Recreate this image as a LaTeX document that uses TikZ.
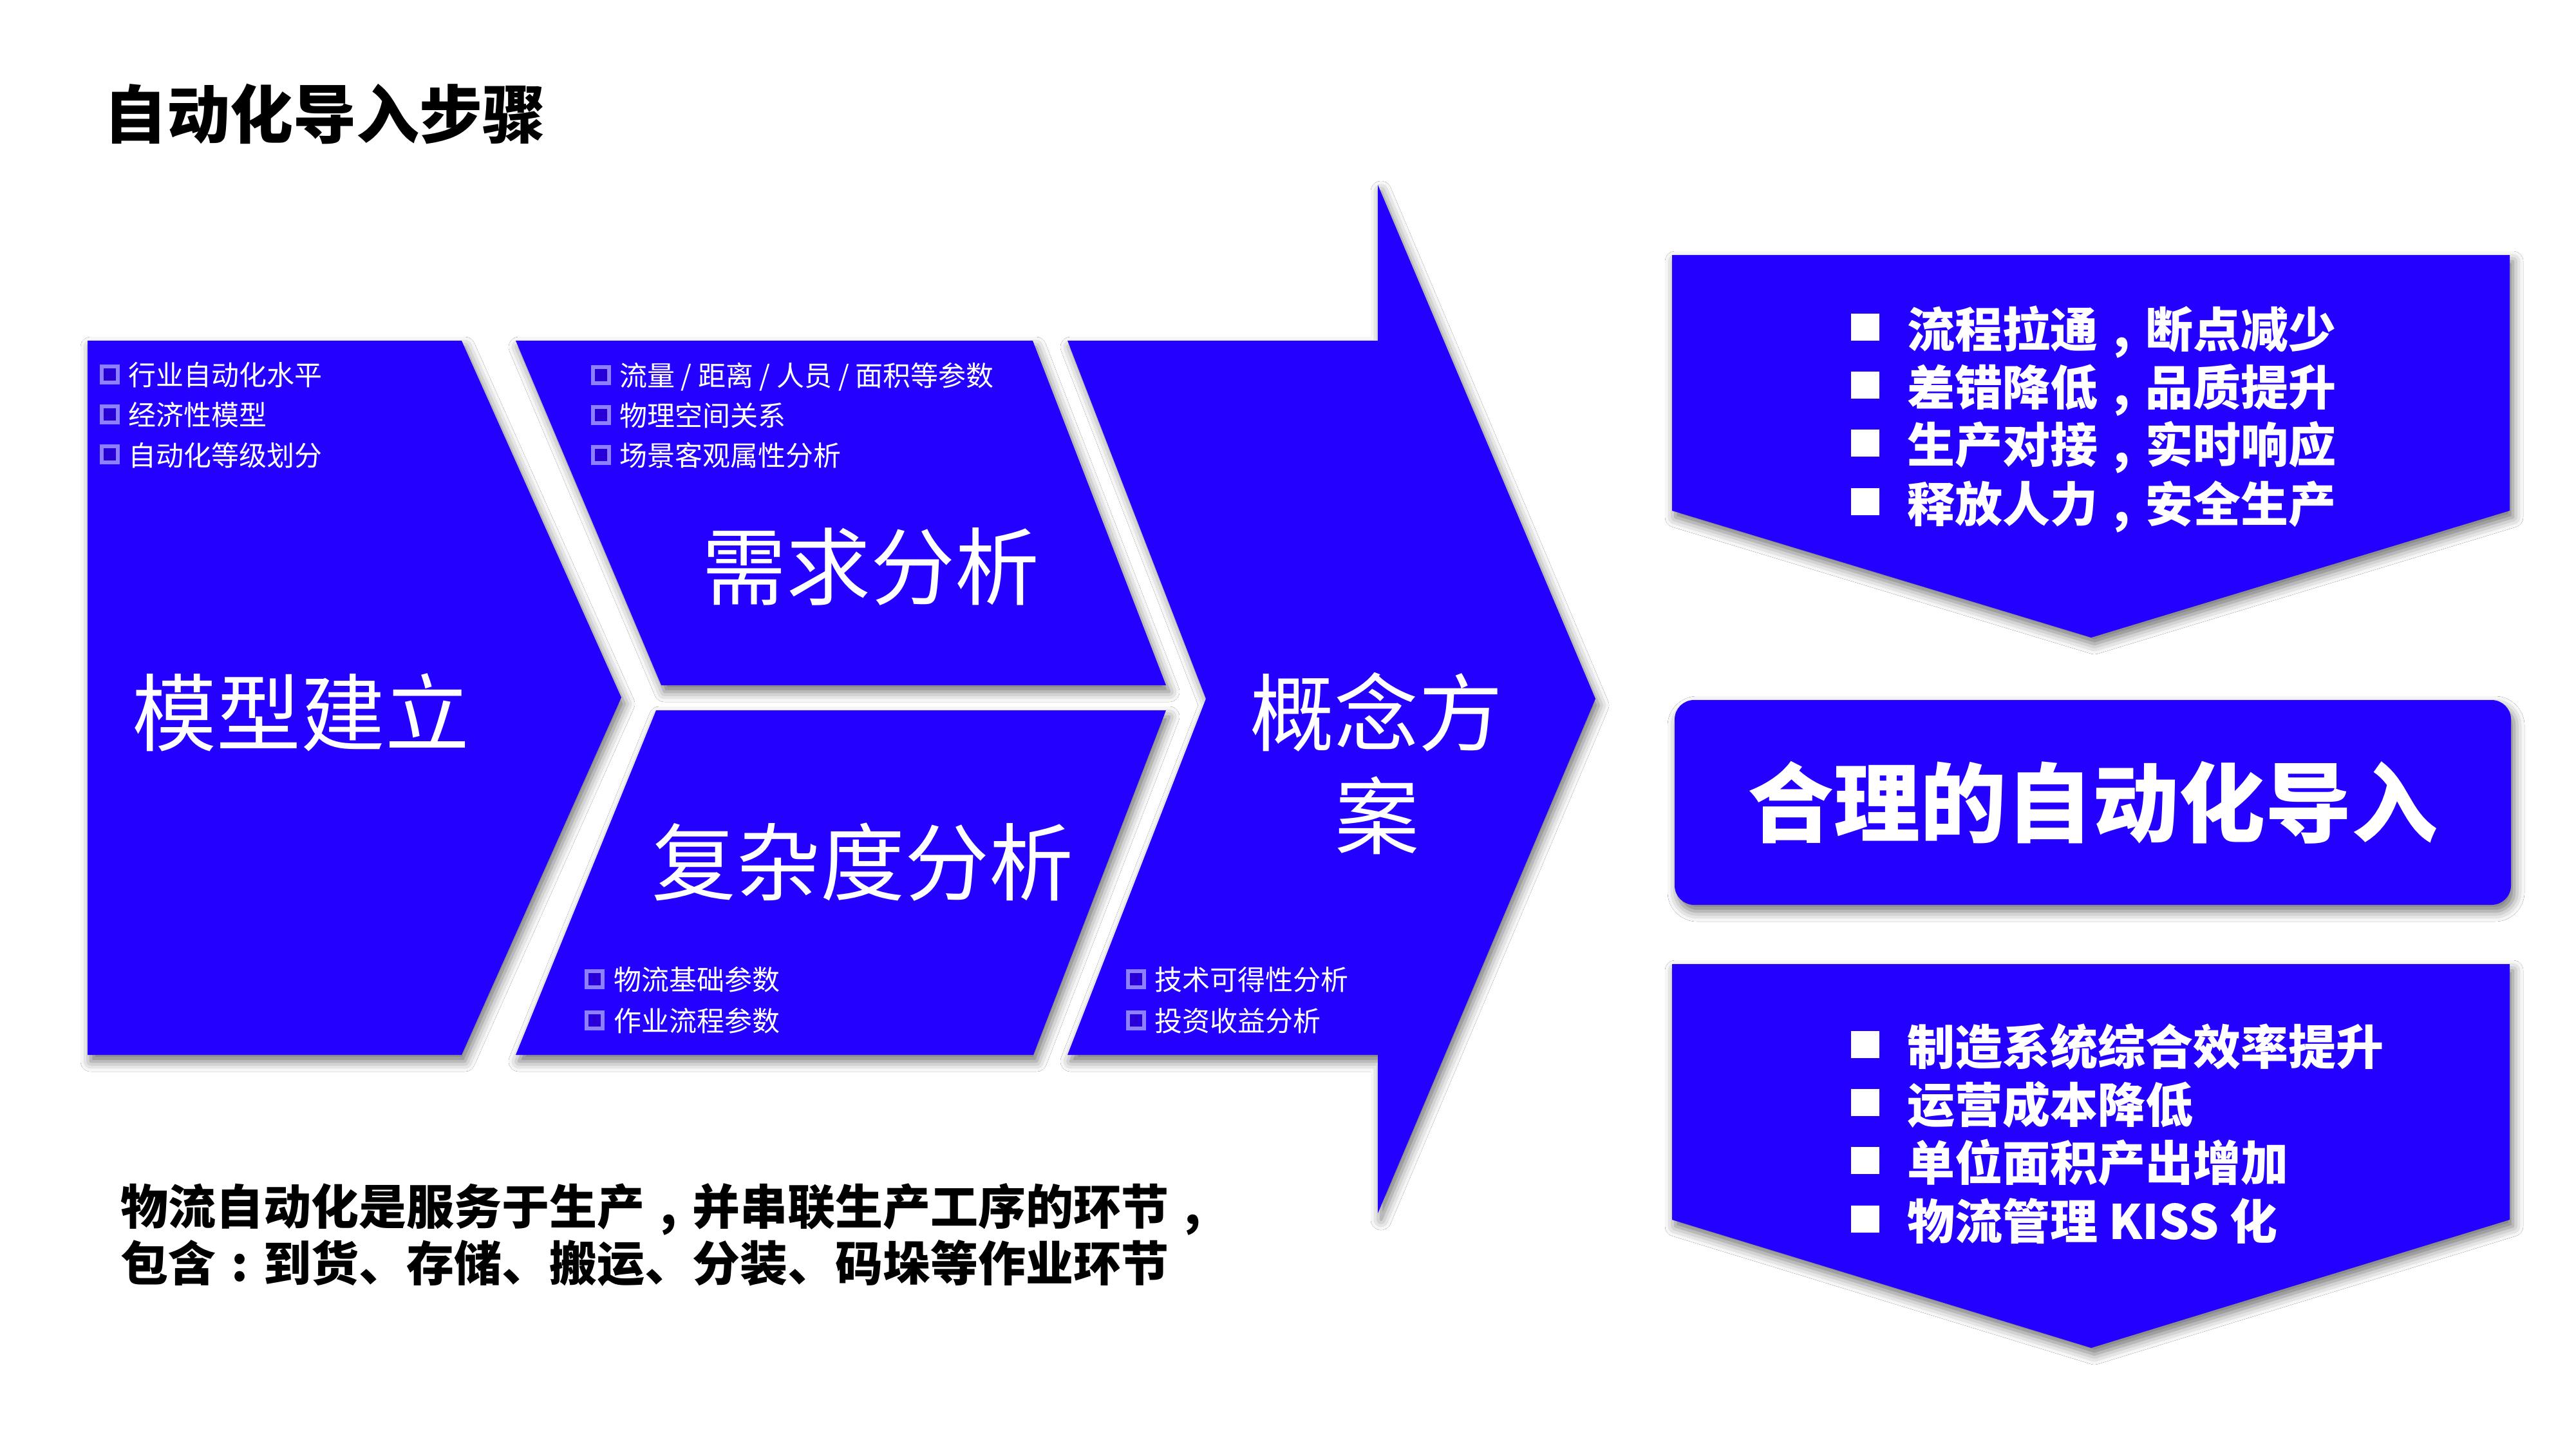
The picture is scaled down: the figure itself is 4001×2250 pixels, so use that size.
\documentclass[tikz,border=0pt]{standalone}
\usepackage{fontspec}
\setmainfont{Noto Sans CJK SC}
\newcommand{\fwc}{\makebox[1em][c]{,}}
\newcommand{\fwcolon}{\makebox[1em][c]{:}}
\usetikzlibrary{shadows.blur}
\definecolor{myblue}{RGB}{36,0,255}
\definecolor{boxline}{RGB}{140,128,255}
\definecolor{boxin}{RGB}{40,0,215}
\tikzset{
  panel/.style={fill=myblue, blur shadow={shadow xshift=5pt, shadow yshift=-10pt, shadow blur radius=16pt, shadow opacity=55}},
  smalltxt/.style={text=white, font=\fontsize{43}{52}\selectfont, anchor=base west, inner sep=0, yshift=-16pt},
  bigtxt/.style={text=white, font=\fontsize{131}{160}\selectfont, anchor=base, inner sep=0, yshift=-50pt},
  rtxt/.style={text=white, font=\bfseries\fontsize{74}{90}\selectfont, anchor=base west, inner sep=0, yshift=-28pt},
  btxt/.style={text=black, font=\bfseries\fontsize{74}{90}\selectfont, anchor=base west, inner sep=0, yshift=-28pt},
  hbox/.style={draw=boxline, fill=boxin, line width=6pt, minimum size=25pt, inner sep=0},
  wbox/.style={fill=white, minimum width=44pt, minimum height=42pt, inner sep=0},
}
\begin{document}
\begin{tikzpicture}[x=1pt,y=-1pt]
\useasboundingbox[fill=white] (0,0) rectangle (4001,2250);

% title
\node[anchor=base west, inner sep=0, font=\bfseries\fontsize{98}{110}\selectfont, yshift=-37pt] (title) at (161,178) {自动化导入步骤};

% panels
\path[panel] (136,529) -- (717,529) -- (965,1083) -- (717,1638) -- (136,1638) -- cycle;
\path[panel] (801,529) -- (1604,529) -- (1811,1064) -- (1027,1064) -- cycle;
\path[panel] (1019,1103) -- (1811,1103) -- (1605,1638) -- (801,1638) -- cycle;
\path[panel] (1658,529) -- (2140,529) -- (2140,287) -- (2478,1085) -- (2140,1884) -- (2140,1638) -- (1658,1638) -- (1873,1085) -- cycle;

\path[panel] (2597,396) -- (3898,396) -- (3898,793) -- (3248,990) -- (2597,793) -- cycle;
\path[panel, rounded corners=30pt] (2601,1087) rectangle (3900,1405);
\path[panel] (2597,1497) -- (3898,1497) -- (3898,1894) -- (3248,2093) -- (2597,1894) -- cycle;

% panel 1 items
\node[hbox] (b11) at (170,581) {};
\node[smalltxt] (t11) at (199,582) {行业自动化水平};
\node[hbox] (b12) at (170,643) {};
\node[smalltxt] (t12) at (199,644) {经济性模型};
\node[hbox] (b13) at (170,705) {};
\node[smalltxt] (t13) at (199,707) {自动化等级划分};

% panel 2 items
\node[hbox] (b21) at (933,582) {};
\node[smalltxt] (t21) at (962,583) {流量 / 距离 / 人员 / 面积等参数};
\node[hbox] (b22) at (933,644) {};
\node[smalltxt] (t22) at (962,645) {物理空间关系};
\node[hbox] (b23) at (933,706) {};
\node[smalltxt] (t23) at (962,707) {场景客观属性分析};

% panel 4 items
\node[hbox] (b41) at (923,1520) {};
\node[smalltxt] (t41) at (953,1521) {物流基础参数};
\node[hbox] (b42) at (923,1584) {};
\node[smalltxt] (t42) at (953,1585) {作业流程参数};

% panel 3 items
\node[hbox] (b31) at (1764,1520) {};
\node[smalltxt] (t31) at (1793,1521) {技术可得性分析};
\node[hbox] (b32) at (1764,1584) {};
\node[smalltxt] (t32) at (1793,1585) {投资收益分析};

% big labels
\node[bigtxt] (L1) at (467,1106) {模型建立};
\node[bigtxt] (L2) at (1352,879) {需求分析};
\node[bigtxt] (L4) at (1340,1338) {复杂度分析};
\node[bigtxt] (L3a) at (2138,1106) {概念方};
\node[bigtxt] (L3b) at (2139,1266) {案};

% top right list
\node[wbox] (r1b) at (2897,508) {};
\node[rtxt] (r1) at (2962,511) {流程拉通\fwc 断点减少};
\node[wbox] (r2b) at (2897,598) {};
\node[rtxt] (r2) at (2962,601) {差错降低\fwc 品质提升};
\node[wbox] (r3b) at (2897,688) {};
\node[rtxt] (r3) at (2962,690) {生产对接\fwc 实时响应};
\node[wbox] (r4b) at (2897,779) {};
\node[rtxt] (r4) at (2962,782) {释放人力\fwc 安全生产};

% middle
\node[text=white, font=\bfseries\fontsize{134}{150}\selectfont, inner sep=0, anchor=base, yshift=-51pt] (mid) at (3250,1246) {合理的自动化导入};

% bottom right list
\node[wbox] (s1b) at (2897,1622) {};
\node[rtxt] (s1) at (2962,1625) {制造系统综合效率提升};
\node[wbox] (s2b) at (2897,1712) {};
\node[rtxt] (s2) at (2962,1715) {运营成本降低};
\node[wbox] (s3b) at (2897,1802) {};
\node[rtxt] (s3) at (2962,1805) {单位面积产出增加};
\node[wbox] (s4b) at (2897,1893) {};
\node[rtxt] (s4) at (2962,1896) {物流管理 KISS 化};

% bottom text
\node[btxt] (n1) at (187,1873) {物流自动化是服务于生产\fwc 并串联生产工序的环节\fwc};
\node[btxt] (n2) at (187,1961) {包含\fwcolon 到货、存储、搬运、分装、码垛等作业环节};
\end{tikzpicture}
\end{document}
